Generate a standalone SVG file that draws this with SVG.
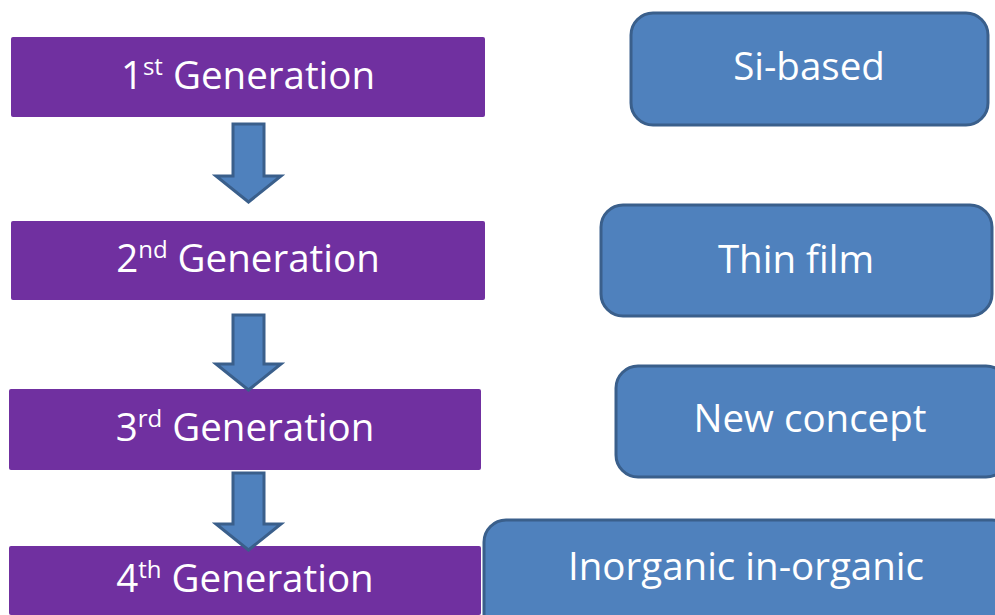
<svg xmlns="http://www.w3.org/2000/svg" width="995" height="615" viewBox="0 0 995 615">
  <style>
    .gen rect { fill: #7030A0; }
    .cat rect { fill: #4F81BD; stroke: #3A5F8B; stroke-width: 3; }
    text { font-family: "Open Sans", "Liberation Sans", sans-serif; fill: #FFFFFF; font-size: 38.5px; text-anchor: middle; }
    .sup { font-size: 24px; }
    .arrow { fill: #4F81BD; stroke: #3A5F8B; stroke-width: 3; stroke-linejoin: miter; }
  </style>
  <rect width="995" height="615" fill="#FFFFFF"/>

  <!-- generation boxes -->
  <g id="gen1" class="gen">
    <rect x="11" y="37" width="474" height="80" rx="2"/>
    <text x="248" y="89">1<tspan class="sup" dy="-14">st</tspan><tspan dy="14"> Generation</tspan></text>
  </g>
  <g id="gen2" class="gen">
    <rect x="11" y="221" width="474" height="79" rx="2"/>
    <text x="248" y="272">2<tspan class="sup" dy="-14">nd</tspan><tspan dy="14"> Generation</tspan></text>
  </g>
  <g id="gen3" class="gen">
    <rect x="9" y="389" width="472" height="81" rx="2"/>
    <text x="245" y="441">3<tspan class="sup" dy="-14">rd</tspan><tspan dy="14"> Generation</tspan></text>
  </g>
  <g id="gen4" class="gen">
    <rect x="9" y="546" width="472" height="69" rx="2"/>
    <text x="245" y="592">4<tspan class="sup" dy="-14">th</tspan><tspan dy="14"> Generation</tspan></text>
  </g>

  <!-- category boxes -->
  <g id="si-based" class="cat">
    <rect x="631" y="13" width="357" height="112" rx="22"/>
    <text x="809" y="80">Si-based</text>
  </g>
  <g id="thin-film" class="cat">
    <rect x="601" y="205" width="391" height="111" rx="22"/>
    <text x="796" y="273">Thin film</text>
  </g>
  <g id="new-concept" class="cat">
    <rect x="616" y="366" width="392" height="111" rx="22"/>
    <text x="810" y="432">New concept</text>
  </g>
  <g id="inorganic" class="cat">
    <rect x="484" y="520" width="530" height="120" rx="22"/>
    <text x="746" y="580">Inorganic in-organic</text>
  </g>

  <!-- block arrows between generations -->
  <g id="connectors">
    <path class="arrow" d="M233,124 H264 V176 H281 L248.5,202 L216,176 H233 Z"/>
    <path class="arrow" d="M233,315 H264 V364 H281 L248.5,390 L216,364 H233 Z"/>
    <path class="arrow" d="M233,473 H264 V524 H281 L248.5,550 L216,524 H233 Z"/>
  </g>
</svg>
